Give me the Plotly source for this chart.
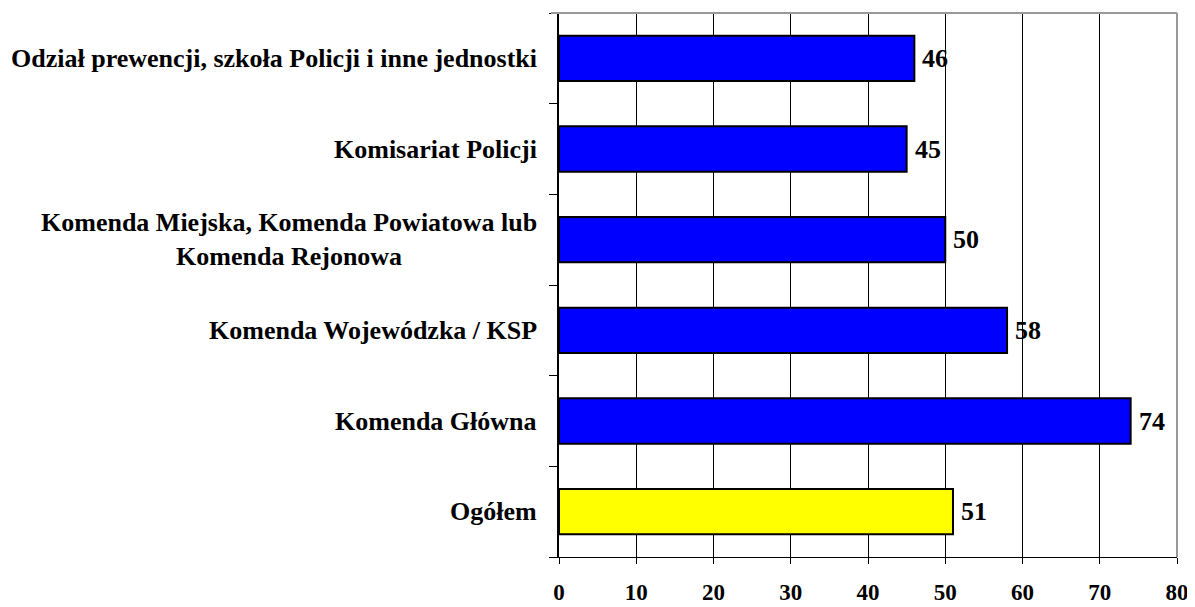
import plotly.graph_objects as go

categories = [
    "Ogółem",
    "Komenda Główna",
    "Komenda Wojewódzka / KSP",
    "Komenda Miejska, Komenda Powiatowa lub<br>Komenda Rejonowa",
    "Komisariat Policji",
    "Odział prewencji, szkoła Policji i inne jednostki",
]
values = [51, 74, 58, 50, 45, 46]
colors = ["#FFFF00", "#0000FF", "#0000FF", "#0000FF", "#0000FF", "#0000FF"]
x_ticks = [0, 10, 20, 30, 40, 50, 60, 70, 80]

FONT = "Liberation Serif, Times New Roman, serif"

fig = go.Figure()
fig.add_trace(go.Bar(
    y=categories,
    x=values,
    orientation="h",
    marker=dict(color=colors, line=dict(color="black", width=2)),
    width=0.5,
    cliponaxis=False,
))

for c, v in zip(categories, values):
    fig.add_annotation(
        x=v, y=c, xref="x", yref="y",
        text=f"<b>{v}</b>", showarrow=False,
        xanchor="left", yanchor="middle", xshift=6,
        font=dict(family=FONT, size=26, color="black"),
    )
    fig.add_annotation(
        x=-0.032, y=c, xref="paper", yref="y",
        text=f"<b>{c}</b>", showarrow=False,
        xanchor="right", yanchor="middle", align="center",
        font=dict(family=FONT, size=26, color="black"),
    )

fig.update_layout(
    width=1187, height=599,
    margin=dict(l=551, r=18, t=5, b=50, autoexpand=False),
    paper_bgcolor="white", plot_bgcolor="white",
    showlegend=False,
    font=dict(family=FONT, color="black"),
    shapes=[
        dict(type="line", xref="paper", yref="paper", x0=-0.013, x1=1, y0=1, y1=1,
             line=dict(color="#999999", width=2)),
        dict(type="line", xref="paper", yref="paper", x0=1, x1=1, y0=0, y1=1,
             line=dict(color="#999999", width=2)),
    ],
)
fig.update_xaxes(
    range=[0, 80], tickvals=x_ticks,
    ticktext=[f"<b>{t}</b>" for t in x_ticks],
    tickfont=dict(family=FONT, size=23, color="black"),
    showgrid=True, gridcolor="black", gridwidth=1,
    showline=True, linecolor="black", linewidth=1,
    ticks="outside", ticklen=6, tickcolor="black",
    ticklabelstandoff=8, zeroline=False, automargin=False,
)
fig.update_yaxes(
    categoryorder="array", categoryarray=categories,
    showticklabels=False, showgrid=False,
    showline=True, linecolor="black", linewidth=2,
    ticks="outside", tickson="boundaries", ticklen=8, tickcolor="black",
    range=[-0.5, 5.5], automargin=False,
)

fig.write_html("out.html")
